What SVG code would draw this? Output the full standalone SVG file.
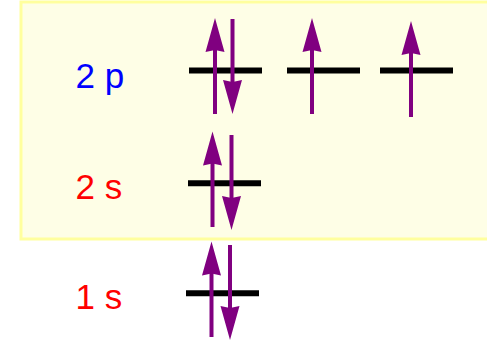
<svg xmlns="http://www.w3.org/2000/svg" width="487" height="344" viewBox="0 0 487 344">
<style>
.lbl{font-family:"Liberation Sans",Arial,sans-serif;font-size:35px}
.blue{fill:#0000ff}.red{fill:#ff0000}
.lvl{stroke:#000;stroke-width:6}
.shaft{stroke:#800080;stroke-width:4}
.head{fill:#800080}
</style>
<defs>
<polygon id="up" class="head" points="0,0 -9.5,34 0,32 9.5,34"/>
<polygon id="dn" class="head" points="0,0 -9.5,-34 0,-32 9.5,-34"/>
</defs>
<rect id="panel" x="21" y="2" width="480" height="237" fill="#fefee6" stroke="#ffff9e" stroke-width="3"/>
<g id="label-2p"><text class="lbl blue" x="75.5" y="87.5">2 p</text></g>
<g id="label-2s"><text class="lbl red" x="75.5" y="198.5">2 s</text></g>
<g id="label-1s"><text class="lbl red" x="75.5" y="308.5">1 s</text></g>
<g id="orbital-2p-1">
<line class="lvl" x1="189" y1="70.5" x2="262" y2="70.5"/>
<line class="shaft" x1="215" y1="114" x2="215" y2="48"/><use href="#up" x="215" y="18"/>
<line class="shaft" x1="232.5" y1="19" x2="232.5" y2="84"/><use href="#dn" x="232.5" y="114"/>
</g>
<g id="orbital-2p-2">
<line class="lvl" x1="287" y1="70.5" x2="360" y2="70.5"/>
<line class="shaft" x1="312" y1="114" x2="312" y2="48"/><use href="#up" x="312" y="18"/>
</g>
<g id="orbital-2p-3">
<line class="lvl" x1="380" y1="70.5" x2="453" y2="70.5"/>
<line class="shaft" x1="411" y1="117" x2="411" y2="50"/><use href="#up" x="411" y="21"/>
</g>
<g id="orbital-2s">
<line class="lvl" x1="188" y1="183.3" x2="261" y2="183.3"/>
<line class="shaft" x1="212.5" y1="227" x2="212.5" y2="162"/><use href="#up" x="212.5" y="131.5"/>
<line class="shaft" x1="231.5" y1="135" x2="231.5" y2="200"/><use href="#dn" x="231.5" y="230"/>
</g>
<g id="orbital-1s">
<line class="lvl" x1="186" y1="293.3" x2="259" y2="293.3"/>
<line class="shaft" x1="211.5" y1="337" x2="211.5" y2="272"/><use href="#up" x="211.5" y="241.5"/>
<line class="shaft" x1="230" y1="245" x2="230" y2="310"/><use href="#dn" x="230" y="340"/>
</g>
<g id="connectors"/>
</svg>
